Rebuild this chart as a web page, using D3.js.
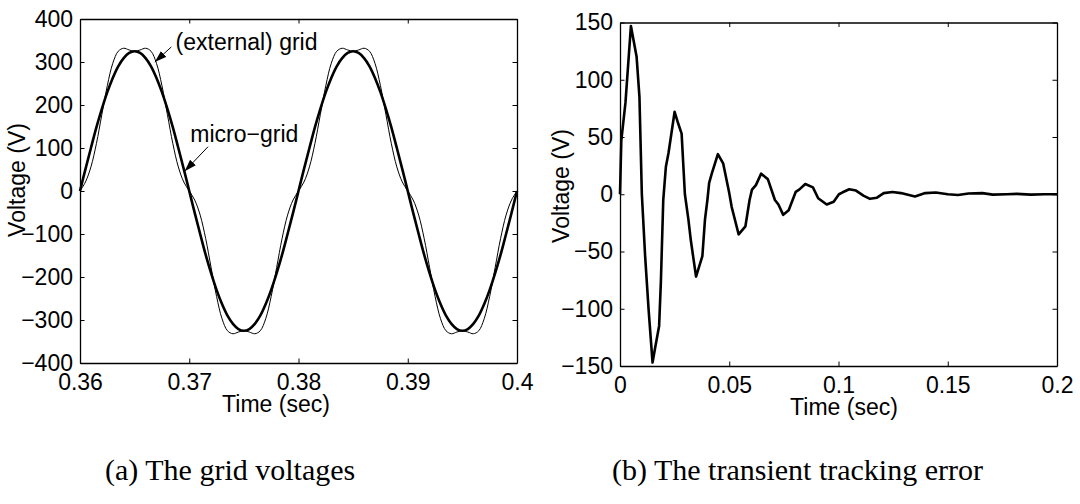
<!DOCTYPE html>
<html>
<head>
<meta charset="utf-8">
<script src="https://cdn.jsdelivr.net/npm/d3@7"></script>
<style>
  body { margin: 0; background: #fff; }
  svg { display: block; }
  text { font-family: "Liberation Sans", Arial, sans-serif; fill: #000; }
  .caption { font-family: "Liberation Serif", "Times New Roman", serif; }
</style>
</head>
<body>
<svg id="chart" width="1080" height="504"></svg>
<script>
// (a) grid voltages, one reading every 0.5 ms starting at 0.36 s
const gridStart = 0.36;
const gridStep = 0.0005;
const microGrid = [
  0, 51, 100, 148, 191, 230, 263, 290, 309, 321, 325, 321, 309, 290, 263, 230, 191, 148, 100, 51,
  0, -51, -100, -148, -191, -230, -263, -290, -309, -321, -325, -321, -309, -290, -263, -230, -191, -148, -100, -51,
  0, 51, 100, 148, 191, 230, 263, 290, 309, 321, 325, 321, 309, 290, 263, 230, 191, 148, 100, 51,
  0, -51, -100, -148, -191, -230, -263, -290, -309, -321, -325, -321, -309, -290, -263, -230, -191, -148, -100, -51,
  0
];
const externalGrid = [
  0, 21, 56, 110, 178, 245, 297, 325, 332, 328, 325, 328, 332, 325, 297, 245, 178, 110, 56, 21,
  0, -21, -56, -110, -178, -245, -297, -325, -332, -328, -325, -328, -332, -325, -297, -245, -178, -110, -56, -21,
  0, 21, 56, 110, 178, 245, 297, 325, 332, 328, 325, 328, 332, 325, 297, 245, 178, 110, 56, 21,
  0, -21, -56, -110, -178, -245, -297, -325, -332, -328, -325, -328, -332, -325, -297, -245, -178, -110, -56, -21,
  0
];
const gridXTicks = [0.36, 0.37, 0.38, 0.39, 0.4];
const gridYTicks = [-400, -300, -200, -100, 0, 100, 200, 300, 400];

// (b) transient tracking error
const errTime = [
  0, 0.0006, 0.0025, 0.005, 0.0076, 0.0089, 0.010, 0.0115, 0.0131, 0.0149,
  0.016, 0.0179, 0.0187, 0.0198, 0.021, 0.0222, 0.025, 0.0266, 0.0282, 0.0297,
  0.0313, 0.0324, 0.0348, 0.0377, 0.0389, 0.040, 0.0408, 0.042, 0.0448, 0.0472,
  0.050, 0.0511, 0.0519, 0.0543, 0.0574, 0.0593, 0.0604, 0.0622, 0.0646, 0.0677,
  0.0709, 0.0725, 0.0747, 0.0772, 0.0804, 0.082, 0.0848, 0.0883, 0.0907, 0.0946,
  0.0978, 0.1002, 0.1017, 0.1049, 0.108, 0.1114, 0.1144, 0.1176, 0.1207, 0.1247,
  0.1286, 0.135, 0.1397, 0.1445, 0.150, 0.1547, 0.1595, 0.1658, 0.1706, 0.177,
  0.1816, 0.188, 0.1943, 0.200
];
const errValue = [
  0, 47, 80, 147, 120, 85, 0, -54, -101, -147,
  -135, -115, -77, -5, 24, 36, 72, 62, 53, 0,
  -22, -40, -72, -54, -22, -5, 10, 18, 35, 27,
  1, -11, -17, -35, -28, -5, 4, 8, 18, 13,
  -5, -9, -18, -14, 2, 4, 9, 6, -3.5, -9,
  -6.5, 0, 1.5, 4.4, 3.2, -1.2, -4, -3, 1, 2,
  1, -2, 1, 1.5, 0, -0.7, 0.6, 1, -0.3, 0,
  0.3, -0.3, 0, 0
];
const errXTicks = [0, 0.05, 0.1, 0.15, 0.2];
const errYTicks = [-150, -100, -50, 0, 50, 100, 150];

const captions = ["(a) The grid voltages", "(b) The transient tracking error"];

const svg = d3.select("#chart");
svg.append("rect").attr("width", 1080).attr("height", 504).attr("fill", "#fff");

const fontSize = 23;
const tickLen = 4.5;
const fmtMinus = d => String(d).replace("-", "\u2212");

svg.append("defs").append("marker")
  .attr("id", "arrow")
  .attr("viewBox", "0 0 12 8")
  .attr("refX", 12).attr("refY", 4)
  .attr("markerWidth", 12).attr("markerHeight", 8)
  .attr("markerUnits", "userSpaceOnUse")
  .attr("orient", "auto")
  .append("path").attr("d", "M0,0L12,4L0,8Z").attr("fill", "#000");

function drawAxes(g, x, y, xTicks, yTicks) {
  const [x0, x1] = x.range();
  const [y0, y1] = y.range();

  const styleAxis = sel => {
    sel.attr("font-size", fontSize).attr("font-family", null);
    sel.select(".domain").attr("stroke", "#000").attr("stroke-width", 1.3);
    sel.selectAll(".tick line").attr("stroke", "#000").attr("stroke-width", 1);
  };

  g.append("g").attr("transform", `translate(0,${y0})`)
    .call(d3.axisBottom(x).tickValues(xTicks).tickFormat(d => String(+d.toFixed(3)))
      .tickSizeInner(-tickLen).tickSizeOuter(0).tickPadding(11))
    .call(styleAxis);
  g.append("g").attr("transform", `translate(0,${y1})`)
    .call(d3.axisTop(x).tickValues(xTicks).tickFormat("")
      .tickSizeInner(-tickLen).tickSizeOuter(0))
    .call(styleAxis);
  g.append("g").attr("transform", `translate(${x0},0)`)
    .call(d3.axisLeft(y).tickValues(yTicks).tickFormat(fmtMinus)
      .tickSizeInner(-tickLen).tickSizeOuter(0).tickPadding(7))
    .call(styleAxis);
  g.append("g").attr("transform", `translate(${x1},0)`)
    .call(d3.axisRight(y).tickValues(yTicks).tickFormat("")
      .tickSizeInner(-tickLen).tickSizeOuter(0))
    .call(styleAxis);
}

function axisLabels(g, xLabel, yLabel) {
  g.append("text")
    .attr("x", xLabel[0]).attr("y", xLabel[1])
    .attr("text-anchor", "middle").attr("font-size", fontSize)
    .text("Time (sec)");
  g.append("text")
    .attr("transform", `translate(${yLabel[0]},${yLabel[1]}) rotate(-90)`)
    .attr("dy", "0.35em")
    .attr("text-anchor", "middle").attr("font-size", fontSize)
    .text("Voltage (V)");
}

// ---- (a) grid voltages
const xa = d3.scaleLinear().domain([0.36, 0.4]).range([80, 517]);
const ya = d3.scaleLinear().domain([-400, 400]).range([363, 19]);
const ga = svg.append("g");

const gridLine = d3.line()
  .x((d, i) => xa(gridStart + i * gridStep))
  .y(d => ya(d))
  .curve(d3.curveCatmullRom);

ga.append("path").datum(externalGrid)
  .attr("d", gridLine).attr("fill", "none")
  .attr("stroke", "#000").attr("stroke-width", 1);
ga.append("path").datum(microGrid)
  .attr("d", gridLine).attr("fill", "none")
  .attr("stroke", "#000").attr("stroke-width", 2.6);

drawAxes(ga, xa, ya, gridXTicks, gridYTicks);
axisLabels(ga, [276, 412], [17, 180]);

// annotations: label, text anchor, arrow tail and tip, all in data units
const notes = [
  {label: "(external) grid", text: [0.36875, 328], tail: [0.36836, 335], tip: [0.36685, 300]},
  {label: "micro\u2212grid", text: [0.3701, 115], tail: [0.37172, 103], tip: [0.36958, 46]}
];
notes.forEach(n => {
  ga.append("line")
    .attr("x1", xa(n.tail[0])).attr("y1", ya(n.tail[1]))
    .attr("x2", xa(n.tip[0])).attr("y2", ya(n.tip[1]))
    .attr("stroke", "#000").attr("stroke-width", 1)
    .attr("marker-end", "url(#arrow)");
  ga.append("text")
    .attr("x", xa(n.text[0])).attr("y", ya(n.text[1]))
    .attr("font-size", fontSize)
    .text(n.label);
});

// ---- (b) transient tracking error
const xb = d3.scaleLinear().domain([0, 0.2]).range([620, 1057]);
const yb = d3.scaleLinear().domain([-150, 150]).range([366, 22.5]);
const gb = svg.append("g");

const errLine = d3.line()
  .x((d, i) => xb(errTime[i]))
  .y(d => yb(d));

gb.append("path").datum(errValue)
  .attr("d", errLine).attr("fill", "none")
  .attr("stroke", "#000").attr("stroke-width", 2.6)
  .attr("stroke-linejoin", "round");

drawAxes(gb, xb, yb, errXTicks, errYTicks);
axisLabels(gb, [844, 415], [561, 186]);

// ---- captions
svg.selectAll(".caption").data(captions).join("text")
  .attr("class", "caption")
  .attr("x", (d, i) => i === 0 ? 105 : 612)
  .attr("y", 480)
  .attr("font-size", 30)
  .text(d => d);
</script>
</body>
</html>
